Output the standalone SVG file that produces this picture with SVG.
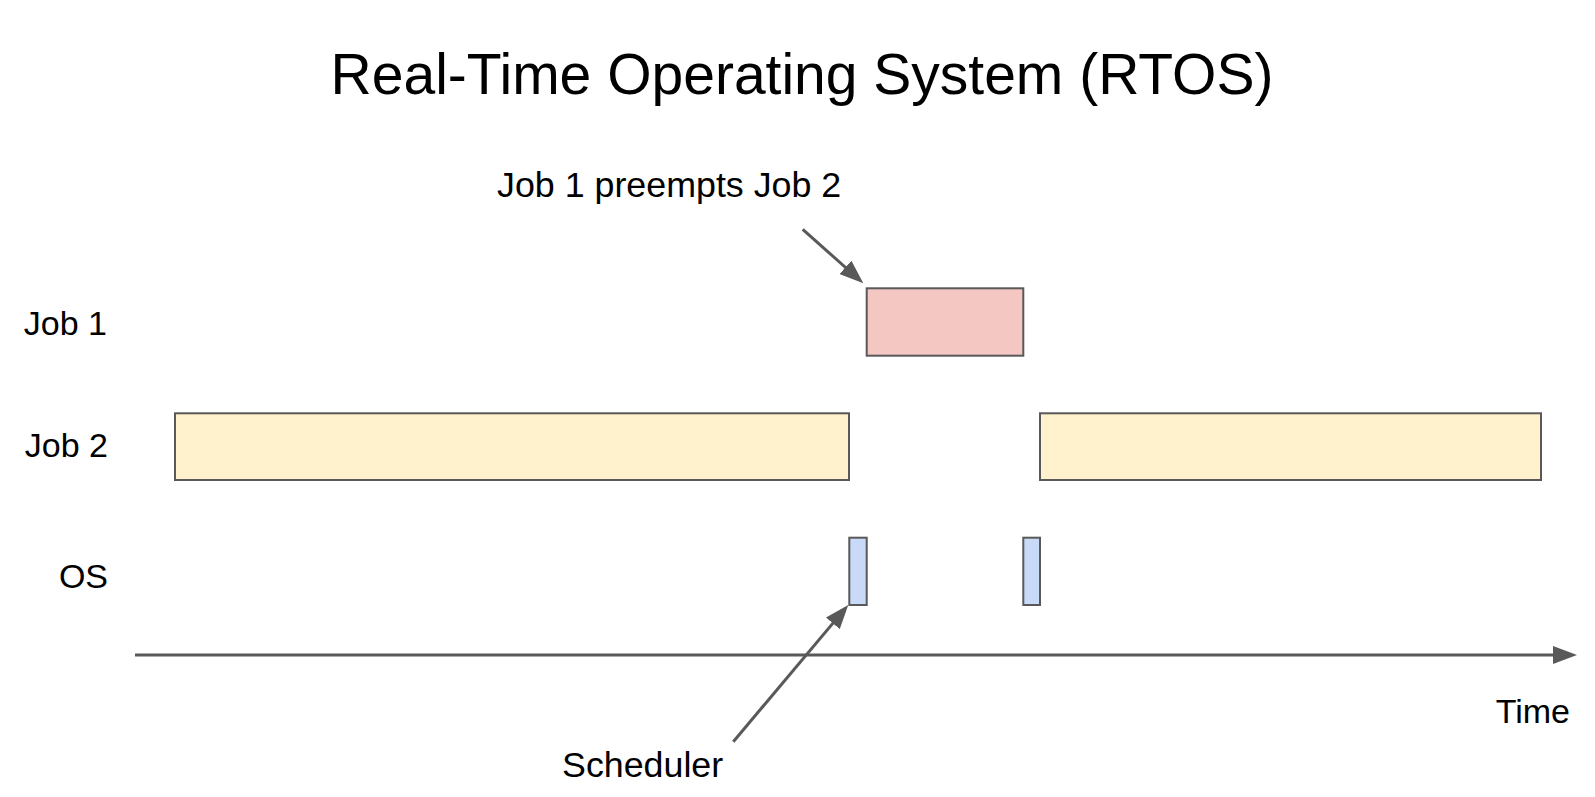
<svg xmlns="http://www.w3.org/2000/svg" width="1595" height="797" viewBox="0 0 1595 797">
  <style>
    text { font-family: "Liberation Sans", Arial, sans-serif; fill: #000000; }
    .title { font-size: 57px; text-anchor: middle; }
    .lbl { font-size: 34px; text-anchor: end; }
    .note { font-size: 35.8px; }
    .box { stroke: #595959; stroke-width: 2; }
    .job1 { fill: #f4c7c3; }
    .job2 { fill: #fff2cc; }
    .os { fill: #c9daf8; }
    .conn { stroke: #595959; stroke-width: 3; fill: none; marker-end: url(#arrow); }
  </style>
  <defs>
    <marker id="arrow" markerUnits="userSpaceOnUse" markerWidth="24" markerHeight="18" refX="13" refY="9" orient="auto">
      <path d="M0,0 L24,9 L0,18 z" fill="#595959"/>
    </marker>
  </defs>
  <rect width="1595" height="797" fill="#ffffff"/>

  <g id="title">
    <text class="title" x="802" y="94">Real-Time Operating System (RTOS)</text>
  </g>

  <g id="label-job1"><text class="lbl" x="107" y="335">Job 1</text></g>
  <g id="label-job2"><text class="lbl" x="108" y="457">Job 2</text></g>
  <g id="label-os"><text class="lbl" x="108" y="588">OS</text></g>

  <g id="job1-run"><rect class="box job1" x="866.7" y="288.3" width="156.6" height="67.4"/></g>
  <g id="job2-run-a"><rect class="box job2" x="175" y="413.3" width="674" height="66.7"/></g>
  <g id="job2-run-b"><rect class="box job2" x="1040" y="413.3" width="501" height="66.7"/></g>
  <g id="os-run-a"><rect class="box os" x="849.3" y="537.7" width="17.4" height="67.3"/></g>
  <g id="os-run-b"><rect class="box os" x="1023.3" y="537.7" width="16.7" height="67.3"/></g>

  <g id="note-preempt"><text class="note" x="497" y="197">Job 1 preempts Job 2</text></g>
  <g id="note-scheduler"><text class="note" x="562" y="777">Scheduler</text></g>
  <g id="label-time"><text class="lbl" x="1570" y="723">Time</text></g>

  <g id="connectors">
    <line class="conn" x1="135" y1="655" x2="1566" y2="655"/>
    <line class="conn" x1="802.7" y1="229.3" x2="855.1" y2="276.0"/>
    <line class="conn" x1="733.3" y1="741.7" x2="841.2" y2="613.4"/>
  </g>
</svg>
